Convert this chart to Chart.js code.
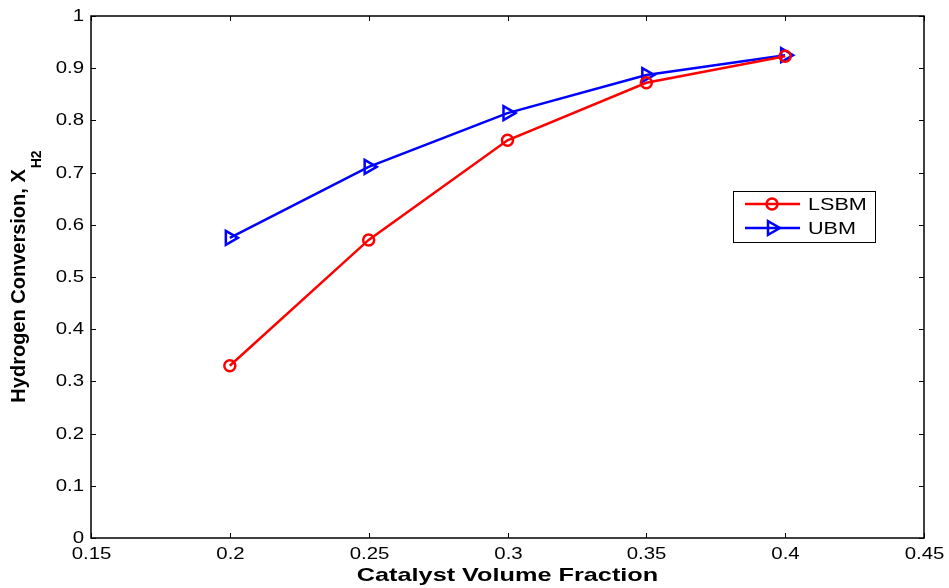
<!DOCTYPE html>
<html>
<head>
<meta charset="utf-8">
<script src="https://cdn.jsdelivr.net/npm/chart.js@4.4.0/dist/chart.umd.min.js"></script>
<style>
  html, body { margin: 0; padding: 0; background: #fff; }
  #wrap { width: 949px; height: 588px; }
</style>
</head>
<body>
<div id="wrap"><canvas id="conversionChart" width="949" height="588"></canvas></div>
<script>
// catalyst volume fraction (x) and hydrogen conversion (y)
const fractions = [0.2, 0.25, 0.3, 0.35, 0.4];
const lsbmValues = [0.33, 0.571, 0.762, 0.872, 0.923];
const ubmValues = [0.575, 0.711, 0.814, 0.887, 0.925];
const seriesNames = ['LSBM', 'UBM'];

const SANS = '"Liberation Sans", Arial, sans-serif';

// the original figure text is stretched sideways, so draw it scaled
function stretchedText(ctx, text, x, y, align, sx) {
    const w = ctx.measureText(text).width * sx;
    let left = x;
    if (align === 'center') left = x - w / 2;
    if (align === 'right') left = x - w;
    ctx.save();
    ctx.translate(left, y);
    ctx.scale(sx, 1);
    ctx.textAlign = 'left';
    ctx.fillText(text, 0, 0);
    ctx.restore();
}

// box around the plot + MATLAB style inward ticks, labels, titles, legend
const matlabAxes = {
    id: 'matlabAxes',
    afterDraw(chart) {
        const { ctx, chartArea: a, scales } = chart;
        ctx.save();
        ctx.strokeStyle = '#000';
        ctx.lineWidth = 1.5;
        ctx.strokeRect(a.left, a.top, a.right - a.left, a.bottom - a.top);

        ctx.lineWidth = 1;
        ctx.fillStyle = '#000';
        ctx.font = '17px ' + SANS;
        ctx.textBaseline = 'middle';
        const len = 5;
        scales.x.ticks.forEach(t => {
            const px = Math.round(scales.x.getPixelForValue(t.value)) + 0.5;
            ctx.beginPath();
            ctx.moveTo(px, a.bottom); ctx.lineTo(px, a.bottom - len);
            ctx.moveTo(px, a.top); ctx.lineTo(px, a.top + len);
            ctx.stroke();
            stretchedText(ctx, String(Math.round(t.value * 100) / 100), px, a.bottom + 16, 'center', 1.2);
        });
        scales.y.ticks.forEach(t => {
            const py = Math.round(scales.y.getPixelForValue(t.value)) + 0.5;
            ctx.beginPath();
            ctx.moveTo(a.left, py); ctx.lineTo(a.left + len, py);
            ctx.moveTo(a.right, py); ctx.lineTo(a.right - len, py);
            ctx.stroke();
            stretchedText(ctx, String(Math.round(t.value * 10) / 10), a.left - 7, py, 'right', 1.2);
        });

        // x title
        ctx.font = 'bold 19px ' + SANS;
        ctx.textBaseline = 'middle';
        stretchedText(ctx, 'Catalyst Volume Fraction', (a.left + a.right) / 2, 576, 'center', 1.33);

        // y title with subscript
        ctx.save();
        ctx.translate(25, (a.top + a.bottom) / 2);
        ctx.rotate(-Math.PI / 2);
        ctx.textBaseline = 'alphabetic';
        const main = 'Hydrogen Conversion, X';
        ctx.font = 'bold 20px ' + SANS;
        const wMain = ctx.measureText(main).width;
        ctx.font = 'bold 14px ' + SANS;
        const wSub = ctx.measureText('H2').width;
        const x0 = -(wMain + wSub) / 2;
        ctx.font = 'bold 20px ' + SANS;
        stretchedText(ctx, main, x0, 0, 'left', 1);
        ctx.font = 'bold 14px ' + SANS;
        stretchedText(ctx, 'H2', x0 + wMain + 1, 16, 'left', 1);
        ctx.restore();

        // legend box
        const lx = 733, ly = 191, lw = 142, lh = 51;
        ctx.fillStyle = '#fff';
        ctx.fillRect(lx, ly, lw, lh);
        ctx.strokeStyle = '#000';
        ctx.lineWidth = 1;
        ctx.strokeRect(lx + 0.5, ly + 0.5, lw, lh);
        chart.data.datasets.forEach((ds, i) => {
            const y = 204 + i * 24;
            ctx.strokeStyle = ds.borderColor;
            ctx.lineWidth = ds.borderWidth;
            ctx.beginPath();
            ctx.moveTo(745, y); ctx.lineTo(800, y);
            ctx.stroke();
            ctx.fillStyle = 'rgba(0,0,0,0)';
            ctx.strokeStyle = ds.borderColor;
            ctx.lineWidth = ds.pointBorderWidth;
            Chart.helpers.drawPoint(ctx, {
                pointStyle: ds.pointStyle,
                rotation: ds.pointRotation || 0,
                radius: ds.pointRadius,
                borderWidth: ds.pointBorderWidth
            }, 772, y);
            ctx.fillStyle = '#000';
            ctx.font = '17px ' + SANS;
            ctx.textBaseline = 'middle';
            stretchedText(ctx, ds.label, 808, y + 1, 'left', 1.27);
        });
        ctx.restore();
    }
};

new Chart(document.getElementById('conversionChart'), {
    type: 'line',
    data: {
        datasets: [
            {
                label: seriesNames[0],
                data: fractions.map((f, i) => ({ x: f, y: lsbmValues[i] })),
                borderColor: '#ff0000',
                backgroundColor: 'transparent',
                borderWidth: 2.5,
                pointStyle: 'circle',
                pointRadius: 5.5,
                pointBorderWidth: 2.5,
                pointBackgroundColor: 'transparent'
            },
            {
                label: seriesNames[1],
                data: fractions.map((f, i) => ({ x: f, y: ubmValues[i] })),
                borderColor: '#0000ff',
                backgroundColor: 'transparent',
                borderWidth: 2.5,
                pointStyle: 'triangle',
                pointRotation: 90,
                pointRadius: 8,
                pointBorderWidth: 2.5,
                pointBackgroundColor: 'transparent'
            }
        ]
    },
    options: {
        responsive: false,
        animation: false,
        layout: { padding: { top: 16, right: 25, left: 0, bottom: 0 } },
        plugins: { legend: { display: false }, tooltip: { enabled: false } },
        scales: {
            x: {
                type: 'linear',
                min: 0.15,
                max: 0.45,
                ticks: { stepSize: 0.05, display: false },
                grid: { display: false, drawTicks: false },
                border: { display: false },
                afterFit: s => { s.height = 50; }
            },
            y: {
                min: 0,
                max: 1,
                ticks: { stepSize: 0.1, display: false },
                grid: { display: false, drawTicks: false },
                border: { display: false },
                afterFit: s => { s.width = 91; }
            }
        }
    },
    plugins: [matlabAxes]
});
</script>
</body>
</html>
